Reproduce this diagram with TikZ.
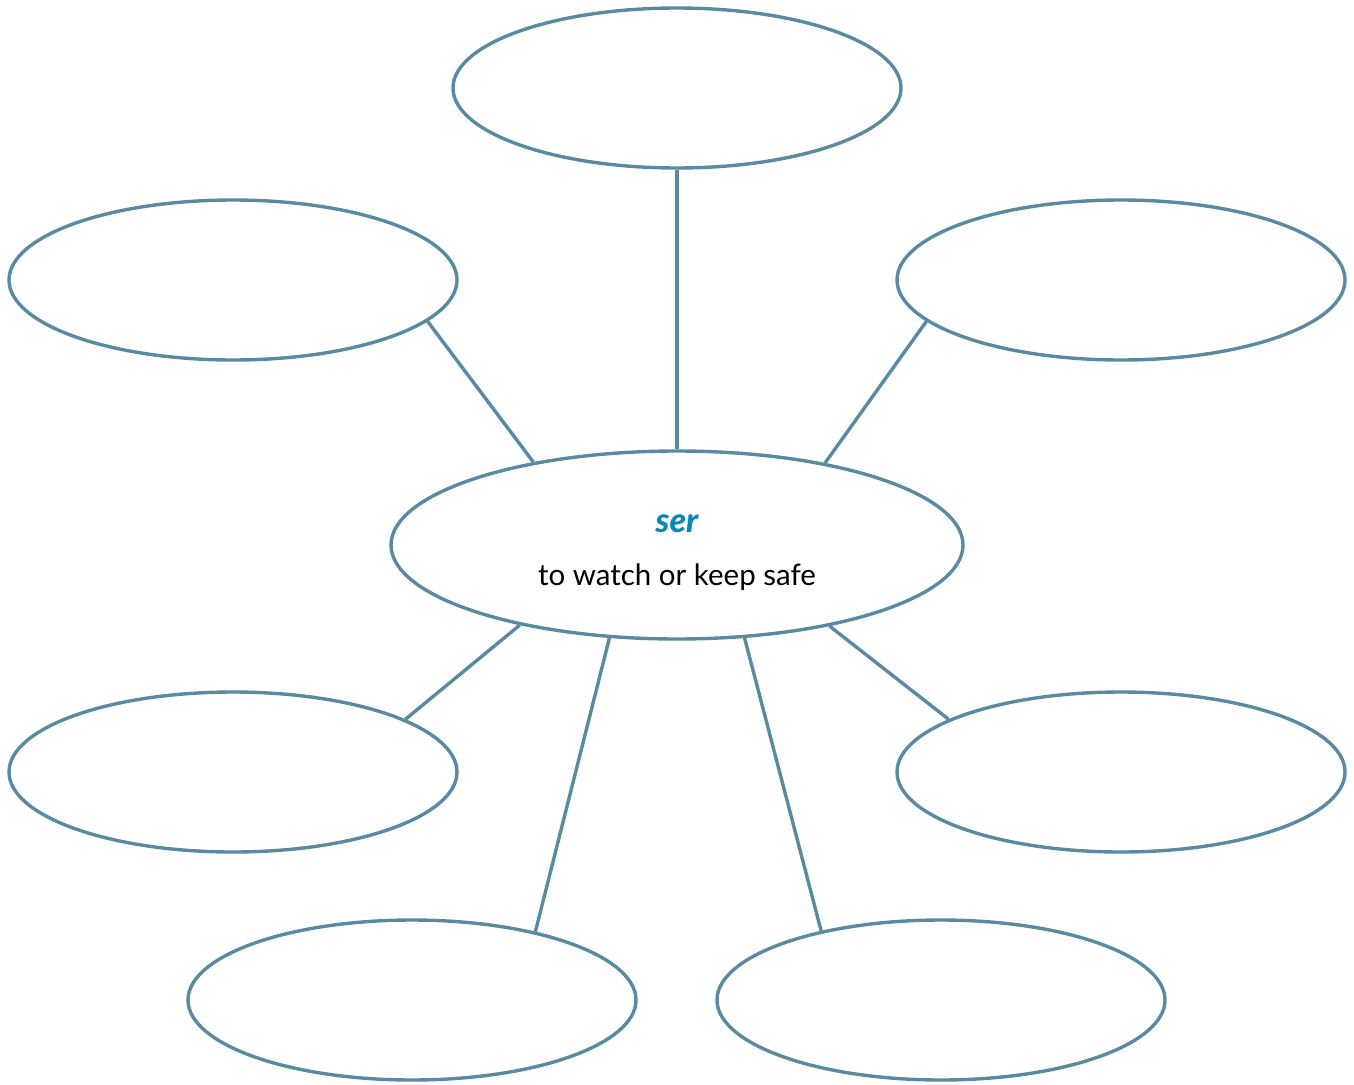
\documentclass[tikz,border=0pt]{standalone}
\usepackage{fontspec}
\setmainfont{Lato}
\newfontfamily\serfont{Lato}[UprightFont=* Bold, ItalicFont=* Bold Italic, BoldFont=* Black, BoldItalicFont=* Black Italic]
\usetikzlibrary{shapes.geometric}
\definecolor{edge}{HTML}{5A8AA2}
\definecolor{serblue}{HTML}{0A88B5}
\tikzset{
  bubble/.style={ellipse, draw=edge, line width=3.4pt, minimum width=448pt, minimum height=160pt, inner sep=0pt},
  hub/.style={ellipse, draw=edge, line width=3.4pt, minimum width=572pt, minimum height=188pt, inner sep=0pt, align=center},
  link/.style={draw=edge, line width=3.4pt}
}
\begin{document}
\begin{tikzpicture}[x=1pt,y=-1pt]
\useasboundingbox (0,0) rectangle (1354,1084);
\node[hub] (c) at (677,545) {};
\node[font=\fontsize{34}{38}\selectfont\serfont\bfseries\itshape, text=serblue, anchor=base] (w) at (677,532) {ser};
\node[font=\fontsize{29.5}{34}\selectfont, anchor=base] (d) at (677,585) {to watch or keep safe};
\node[bubble] (t) at (677,88) {};
\node[bubble] (ul) at (233,280) {};
\node[bubble] (ur) at (1121,280) {};
\node[bubble] (ll) at (233,772) {};
\node[bubble] (lr) at (1121,772) {};
\node[bubble] (bl) at (412,1000) {};
\node[bubble] (br) at (941,1000) {};
\draw[link] (t.south) -- (c.north);
\draw[link] (ul.348) -- (c.150.7);
\draw[link] (ur.192) -- (c.29.3);
\draw[link] (ll.17) -- (c.207.5);
\draw[link] (lr.163) -- (c.332.5);
\draw[link] (bl.29.4) -- (c.234);
\draw[link] (br.150.6) -- (c.306);
\end{tikzpicture}
\end{document}
